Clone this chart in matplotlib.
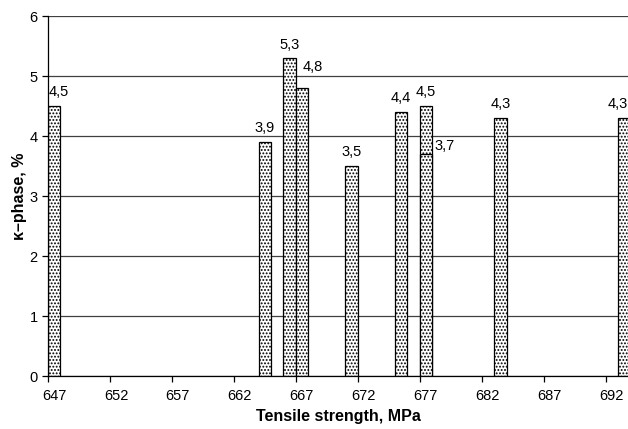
import matplotlib
matplotlib.use('Agg')
import matplotlib.pyplot as plt
from matplotlib.transforms import ScaledTranslation

plt.rcParams['font.family'] = ['Liberation Sans', 'DejaVu Sans']
plt.rcParams['hatch.linewidth'] = 0.9

# data
strength = [647, 664, 666, 667, 671, 675, 677, 677, 683, 693]
kappa = [4.5, 3.9, 5.3, 4.8, 3.5, 4.4, 4.5, 3.7, 4.3, 4.3]
xticks = [647, 652, 657, 662, 667, 672, 677, 682, 687, 692]

fig = plt.figure(figsize=(6.28, 4.29), dpi=100)
ax = fig.add_axes([48 / 628, 1 - 376 / 429, 1 - 48 / 628, (376 - 16) / 429])

ax.set_axisbelow(True)
ax.grid(axis='y', color='#404040', linewidth=0.9)
for x, v in zip(strength, kappa):
    ax.bar(x, v, width=1, align='edge', color='white', edgecolor='black',
           hatch='.....', linewidth=0.9, zorder=2)

# value labels (comma decimal); some labels nudged like the original
offsets = {0: (3, 5), 2: (0, 4), 3: (8, 10), 7: (2, 1)}
for i, (x, v) in enumerate(zip(strength, kappa)):
    txt = f'{v:.1f}'.replace('.', ',')
    dx, dy = offsets.get(i, (0, 5))
    ha = 'center'
    xpos = x + 0.5
    if i == 7:
        ha = 'left'
        xpos = x + 1
    if i == len(strength) - 1:
        ha = 'right'
        xpos = 693.8
    ax.annotate(txt, (xpos, v), xytext=(dx, dy), textcoords='offset points',
                ha=ha, va='bottom', fontsize=10.5, annotation_clip=False)

ax.set_xlim(647, 693.8)
ax.set_ylim(0, 6)
ax.set_xticks(xticks)
ax.set_yticks(range(0, 7))
ax.tick_params(axis='both', labelsize=10.5, length=4, width=0.9, direction='out', colors='black')
ax.tick_params(axis='x', pad=5)
for lab in ax.get_xticklabels():
    lab.set_transform(lab.get_transform() + ScaledTranslation(0.06, 0, fig.dpi_scale_trans))

ax.spines['top'].set_visible(False)
ax.spines['right'].set_visible(False)
ax.spines['left'].set_linewidth(0.9)
ax.spines['bottom'].set_linewidth(0.9)

ax.set_xlabel('Tensile strength, MPa', fontsize=11.5, fontweight='bold', labelpad=5)
ax.set_ylabel('κ–phase, %', fontsize=11.5, fontweight='bold', labelpad=2)

fig.savefig('out.png', dpi=100)
